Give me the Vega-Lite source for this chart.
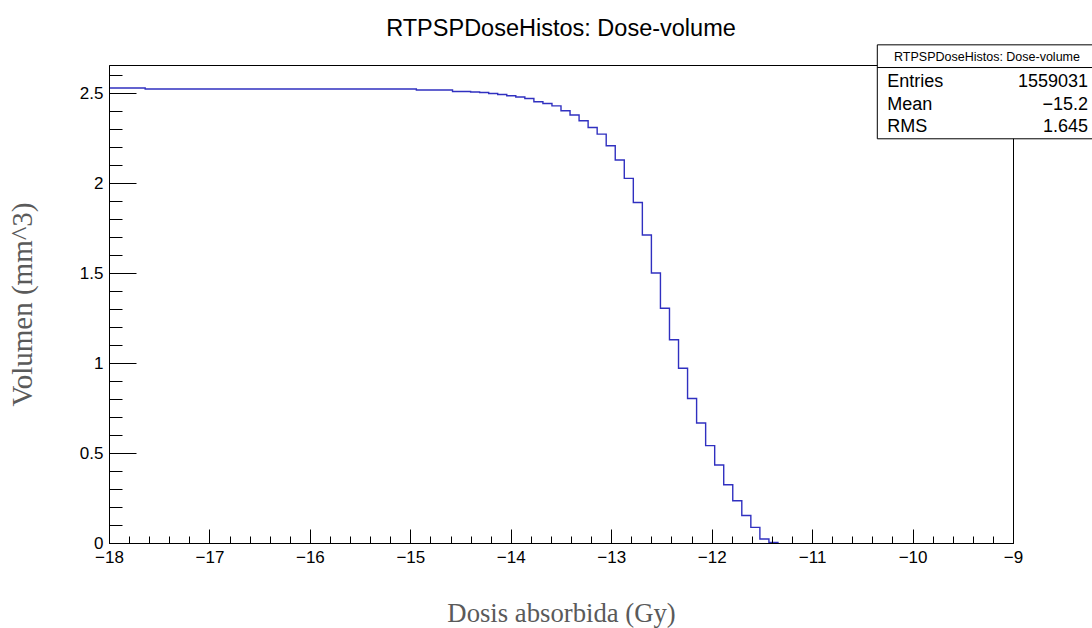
{
  "$schema": "https://vega.github.io/schema/vega-lite/v6.json",
  "width": 904,
  "height": 478,
  "autosize": {"type": "none"},
  "padding": {"left": 109, "top": 65, "right": 79, "bottom": 85},
  "background": "white",
  "config": {"view": {"stroke": "black", "strokeWidth": 1, "fill": "white"}},
  "title": {"text": "RTPSPDoseHistos: Dose-volume", "font": "Liberation Sans", "fontSize": 23.5, "fontWeight": "normal", "color": "black", "anchor": "middle", "offset": 4},
  "datasets": {
    "hist": [
      {"x": -18, "v": 2.528}, {"x": -17.91, "v": 2.528}, {"x": -17.82, "v": 2.528}, {"x": -17.73, "v": 2.528},
      {"x": -17.64, "v": 2.523}, {"x": -17.55, "v": 2.523}, {"x": -17.46, "v": 2.523}, {"x": -17.37, "v": 2.523},
      {"x": -17.28, "v": 2.523}, {"x": -17.19, "v": 2.523}, {"x": -17.1, "v": 2.523}, {"x": -17.01, "v": 2.523},
      {"x": -16.92, "v": 2.523}, {"x": -16.83, "v": 2.523}, {"x": -16.74, "v": 2.523}, {"x": -16.65, "v": 2.523},
      {"x": -16.56, "v": 2.523}, {"x": -16.47, "v": 2.523}, {"x": -16.38, "v": 2.523}, {"x": -16.29, "v": 2.523},
      {"x": -16.2, "v": 2.523}, {"x": -16.11, "v": 2.523}, {"x": -16.02, "v": 2.523}, {"x": -15.93, "v": 2.523},
      {"x": -15.84, "v": 2.523}, {"x": -15.75, "v": 2.523}, {"x": -15.66, "v": 2.523}, {"x": -15.57, "v": 2.523},
      {"x": -15.48, "v": 2.523}, {"x": -15.39, "v": 2.523}, {"x": -15.3, "v": 2.523}, {"x": -15.21, "v": 2.523},
      {"x": -15.12, "v": 2.523}, {"x": -15.03, "v": 2.523},
      {"x": -14.94, "v": 2.517}, {"x": -14.85, "v": 2.517}, {"x": -14.76, "v": 2.517}, {"x": -14.67, "v": 2.517},
      {"x": -14.58, "v": 2.509}, {"x": -14.49, "v": 2.509},
      {"x": -14.4, "v": 2.506}, {"x": -14.31, "v": 2.503}, {"x": -14.22, "v": 2.498}, {"x": -14.13, "v": 2.492},
      {"x": -14.04, "v": 2.485}, {"x": -13.95, "v": 2.478}, {"x": -13.86, "v": 2.47}, {"x": -13.77, "v": 2.452},
      {"x": -13.68, "v": 2.442}, {"x": -13.59, "v": 2.429}, {"x": -13.5, "v": 2.402}, {"x": -13.41, "v": 2.378},
      {"x": -13.32, "v": 2.346}, {"x": -13.23, "v": 2.309}, {"x": -13.14, "v": 2.272}, {"x": -13.05, "v": 2.207},
      {"x": -12.96, "v": 2.128}, {"x": -12.87, "v": 2.026}, {"x": -12.78, "v": 1.892}, {"x": -12.69, "v": 1.711},
      {"x": -12.6, "v": 1.5}, {"x": -12.51, "v": 1.304}, {"x": -12.42, "v": 1.129}, {"x": -12.33, "v": 0.971},
      {"x": -12.24, "v": 0.803}, {"x": -12.15, "v": 0.667}, {"x": -12.06, "v": 0.541}, {"x": -11.97, "v": 0.433},
      {"x": -11.88, "v": 0.324}, {"x": -11.79, "v": 0.235}, {"x": -11.7, "v": 0.153}, {"x": -11.61, "v": 0.087},
      {"x": -11.52, "v": 0.022}, {"x": -11.43, "v": 0.003},
      {"x": -11.34, "v": 0}, {"x": -11.25, "v": 0}, {"x": -11.16, "v": 0}, {"x": -11.07, "v": 0},
      {"x": -10.98, "v": 0}, {"x": -10.89, "v": 0}, {"x": -10.8, "v": 0}, {"x": -10.71, "v": 0},
      {"x": -10.62, "v": 0}, {"x": -10.53, "v": 0}, {"x": -10.44, "v": 0}, {"x": -10.35, "v": 0},
      {"x": -10.26, "v": 0}, {"x": -10.17, "v": 0}, {"x": -10.08, "v": 0}, {"x": -9.99, "v": 0},
      {"x": -9.9, "v": 0}, {"x": -9.81, "v": 0}, {"x": -9.72, "v": 0}, {"x": -9.63, "v": 0},
      {"x": -9.54, "v": 0}, {"x": -9.45, "v": 0}, {"x": -9.36, "v": 0}, {"x": -9.27, "v": 0},
      {"x": -9.18, "v": 0}, {"x": -9.09, "v": 0}
    ],
    "box": [{"x": -10.351, "x2": -8.1, "y": 2.768, "y2": 2.246, "sep": 2.642}],
    "header": [{"text": "RTPSPDoseHistos: Dose-volume", "x": -9.259, "y": 2.703}],
    "stats": [
      {"label": "Entries", "value": "1559031", "y": 2.564},
      {"label": "Mean", "value": "−15.2", "y": 2.435},
      {"label": "RMS", "value": "1.645", "y": 2.311}
    ]
  },
  "layer": [
    {
      "data": {"name": "hist"},
      "transform": [{"filter": "datum.x <= -11.34"}],
      "mark": {"type": "line", "interpolate": "step-after", "color": "#3030c0", "strokeWidth": 1.4},
      "encoding": {
        "x": {"field": "x", "type": "quantitative", "scale": {"domain": [-18, -9], "nice": false, "zero": false},
          "axis": {"orient": "bottom", "values": [-18, -17, -16, -15, -14, -13, -12, -11, -10, -9], "format": "~g", "tickSize": -14, "tickColor": "black", "domainColor": "black", "grid": false, "labelFont": "Liberation Sans", "labelFontSize": 17, "labelColor": "black", "labelPadding": 20, "labelFlush": false, "labelOverlap": false, "title": "Dosis absorbida (Gy)", "titleFont": "Liberation Serif", "titleFontSize": 26.7, "titleFontWeight": "normal", "titleColor": "#5a5a5a", "titlePadding": 35, "zindex": 1}},
        "y": {"field": "v", "type": "quantitative", "scale": {"domain": [0, 2.656], "nice": false, "zero": false},
          "axis": {"orient": "left", "values": [0, 0.5, 1, 1.5, 2, 2.5], "format": "~g", "tickSize": -27, "tickColor": "black", "domainColor": "black", "grid": false, "labelFont": "Liberation Sans", "labelFontSize": 17, "labelColor": "black", "labelPadding": 33, "labelFlush": false, "labelOverlap": false, "title": "Volumen (mm^3)", "titleFont": "Liberation Serif", "titleFontSize": 29, "titleFontWeight": "normal", "titleColor": "#5a5a5a", "titlePadding": 42, "zindex": 1}}
      }
    },
    {
      "data": {"name": "hist"},
      "mark": {"type": "line", "strokeOpacity": 0},
      "encoding": {
        "x": {"field": "x", "type": "quantitative", "scale": {"domain": [-18, -9], "nice": false, "zero": false},
          "axis": {"orient": "bottom", "values": [-18, -17.8, -17.6, -17.4, -17.2, -17, -16.8, -16.6, -16.4, -16.2, -16, -15.8, -15.6, -15.4, -15.2, -15, -14.8, -14.6, -14.4, -14.2, -14, -13.8, -13.6, -13.4, -13.2, -13, -12.8, -12.6, -12.4, -12.2, -12, -11.8, -11.6, -11.4, -11.2, -11, -10.8, -10.6, -10.4, -10.2, -10, -9.8, -9.6, -9.4, -9.2, -9], "tickSize": -7, "tickColor": "black", "labels": false, "domain": false, "grid": false, "title": null, "zindex": 1}},
        "y": {"field": "v", "type": "quantitative", "scale": {"domain": [0, 2.656], "nice": false, "zero": false},
          "axis": {"orient": "left", "values": [0, 0.1, 0.2, 0.3, 0.4, 0.5, 0.6, 0.7, 0.8, 0.9, 1, 1.1, 1.2, 1.3, 1.4, 1.5, 1.6, 1.7, 1.8, 1.9, 2, 2.1, 2.2, 2.3, 2.4, 2.5, 2.6], "tickSize": -13, "tickColor": "black", "labels": false, "domain": false, "grid": false, "title": null, "zindex": 1}}
      }
    },
    {
      "data": {"name": "box"},
      "mark": {"type": "rect", "fill": "white", "stroke": "black", "strokeWidth": 1},
      "encoding": {
        "x": {"field": "x", "type": "quantitative", "scale": {"domain": [-18, -9]}, "axis": null},
        "x2": {"field": "x2"},
        "y": {"field": "y", "type": "quantitative", "scale": {"domain": [0, 2.656]}, "axis": null},
        "y2": {"field": "y2"}
      }
    },
    {
      "data": {"name": "box"},
      "mark": {"type": "rule", "color": "black", "strokeWidth": 1},
      "encoding": {
        "x": {"field": "x", "type": "quantitative", "scale": {"domain": [-18, -9]}, "axis": null},
        "x2": {"field": "x2"},
        "y": {"field": "sep", "type": "quantitative", "scale": {"domain": [0, 2.656]}, "axis": null}
      }
    },
    {
      "data": {"name": "header"},
      "mark": {"type": "text", "font": "Liberation Sans", "fontSize": 12.5, "align": "center", "baseline": "middle", "color": "black"},
      "encoding": {
        "x": {"field": "x", "type": "quantitative", "scale": {"domain": [-18, -9]}, "axis": null},
        "y": {"field": "y", "type": "quantitative", "scale": {"domain": [0, 2.656]}, "axis": null},
        "text": {"field": "text"}
      }
    },
    {
      "data": {"name": "stats"},
      "mark": {"type": "text", "font": "Liberation Sans", "fontSize": 18, "align": "left", "baseline": "middle", "color": "black"},
      "encoding": {
        "x": {"datum": -10.251, "type": "quantitative", "scale": {"domain": [-18, -9]}, "axis": null},
        "y": {"field": "y", "type": "quantitative", "scale": {"domain": [0, 2.656]}, "axis": null},
        "text": {"field": "label"}
      }
    },
    {
      "data": {"name": "stats"},
      "mark": {"type": "text", "font": "Liberation Sans", "fontSize": 18, "align": "right", "baseline": "middle", "color": "black"},
      "encoding": {
        "x": {"datum": -8.253, "type": "quantitative", "scale": {"domain": [-18, -9]}, "axis": null},
        "y": {"field": "y", "type": "quantitative", "scale": {"domain": [0, 2.656]}, "axis": null},
        "text": {"field": "value"}
      }
    }
  ],
  "resolve": {"axis": {"x": "independent", "y": "independent"}}
}
